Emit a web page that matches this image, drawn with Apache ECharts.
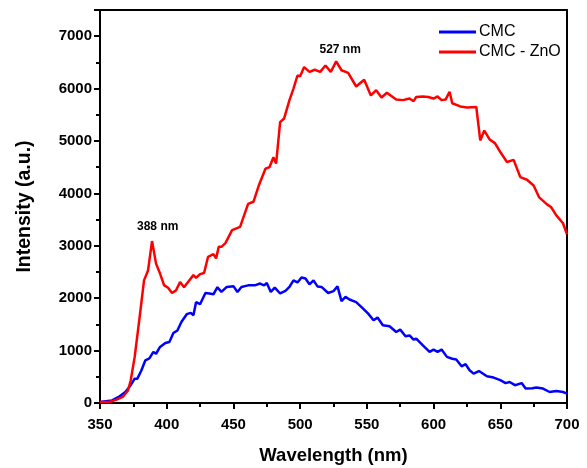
<!DOCTYPE html>
<html>
<head>
<meta charset="utf-8">
<script src="https://cdn.jsdelivr.net/npm/echarts@6/dist/echarts.min.js"></script>
<style>html,body{margin:0;padding:0;background:#fff}#chart{width:587px;height:468px}</style>
</head>
<body>
<div id="chart"></div>
<script>
const seriesNames = ['CMC', 'CMC - ZnO'];
const cmcWavelength = [350,359,364,369,373,376,378,381,384,387,390,392,395,399,402,405,408,411,415,418,420,422,425,429,432,435,438,441,445,450,453,456,461,466,470,473,475,478,481,485,489,492,495,498,501,504,507,510,513,516,521,525,528,531,534,537,542,546,551,555,558,562,567,572,575,579,582,585,587,592,597,600,603,606,610,614,617,621,624,627,630,634,640,645,650,654,657,661,666,669,674,677,682,687,692,697,700];
const cmcIntensity = [20,50,115,210,340,465,465,620,815,850,975,940,1070,1145,1165,1335,1385,1545,1695,1720,1675,1925,1885,2100,2090,2075,2210,2120,2215,2230,2120,2215,2245,2245,2280,2245,2290,2120,2200,2090,2140,2215,2340,2300,2395,2375,2265,2340,2225,2215,2100,2135,2225,1945,2025,1975,1925,1830,1705,1580,1630,1485,1465,1355,1400,1275,1290,1210,1230,1100,975,1020,975,1020,880,845,830,700,740,625,560,610,510,485,435,380,400,340,380,275,280,295,275,210,230,210,180];
const znoWavelength = [350,357,362,367,371,373,376,380,383,386,389,392,395,398,401,404,407,410,413,416,420,422,425,428,431,435,437,439,441,444,449,455,461,465,469,474,477,480,482,485,488,492,495,498,500,503,507,511,515,519,523,527,531,536,542,548,553,557,561,565,572,577,582,585,587,592,596,600,603,606,609,612,614,620,625,632,635,638,642,646,650,655,660,665,670,675,679,685,688,692,697,700];
const znoIntensity = [20,20,60,115,240,430,880,1700,2340,2530,3090,2660,2470,2250,2200,2100,2150,2310,2210,2310,2440,2390,2460,2480,2790,2840,2760,2980,2980,3050,3300,3360,3800,3840,4150,4470,4500,4690,4570,5360,5430,5780,6000,6250,6235,6410,6320,6360,6320,6440,6320,6520,6350,6300,6040,6170,5870,5970,5830,5920,5790,5780,5810,5760,5840,5850,5840,5810,5850,5780,5790,5940,5720,5660,5640,5650,5010,5200,5030,4960,4790,4600,4640,4310,4260,4150,3930,3790,3740,3580,3430,3220];
const peakLabels = [{ nm: 388, value: 3090, text: '388 nm' }, { nm: 527, value: 6520, text: '527 nm' }];

const font = '"Liberation Sans", Arial, sans-serif';
const pair = (xs, ys) => xs.map((x, i) => [x, ys[i]]);

const chart = echarts.init(document.getElementById('chart'), null, { renderer: 'canvas' });
chart.setOption({
  backgroundColor: '#ffffff',
  animation: false,
  textStyle: { fontFamily: font },
  grid: { left: 100, right: 20, top: 10, bottom: 65, outerBoundsMode: 'none', containLabel: false },
  legend: {
    orient: 'vertical', left: 434, top: 19, itemGap: 4,
    icon: 'rect', itemWidth: 37, itemHeight: 3,
    textStyle: { fontFamily: font, fontSize: 16, color: '#000', padding: [0, 0, 0, -2] },
    data: seriesNames
  },
  xAxis: [{
    type: 'value', min: 350, max: 700, interval: 50,
    name: 'Wavelength (nm)', nameLocation: 'middle', nameGap: 43,
    nameTextStyle: { fontFamily: font, fontSize: 18.5, fontWeight: 'bold', color: '#000' },
    axisLine: { show: true, lineStyle: { color: '#000', width: 2 } },
    axisTick: { show: true, length: 6, lineStyle: { color: '#000', width: 2 } },
    minorTick: { show: true, splitNumber: 2, length: 4, lineStyle: { color: '#000', width: 2 } },
    axisLabel: { fontFamily: font, fontSize: 15, fontWeight: 'bold', color: '#000', margin: 14 },
    splitLine: { show: false }
  }, {
    type: 'value', position: 'top', min: 350, max: 700,
    axisLine: { show: true, onZero: false, lineStyle: { color: '#000', width: 2 } },
    axisTick: { show: false }, axisLabel: { show: false }, splitLine: { show: false }
  }],
  yAxis: [{
    type: 'value', min: 0, max: 7500, interval: 1000,
    name: 'Intensity (a.u.)', nameLocation: 'middle', nameGap: 65,
    nameTextStyle: { fontFamily: font, fontSize: 19.5, fontWeight: 'bold', color: '#000' },
    axisLine: { show: true, lineStyle: { color: '#000', width: 2 } },
    axisTick: { show: true, length: 6, lineStyle: { color: '#000', width: 2 } },
    minorTick: { show: true, splitNumber: 2, length: 4, lineStyle: { color: '#000', width: 2 } },
    axisLabel: { fontFamily: font, fontSize: 15, fontWeight: 'bold', color: '#000', margin: 8, showMaxLabel: false,
      formatter: v => String(v) },
    splitLine: { show: false }
  }, {
    type: 'value', position: 'right', min: 0, max: 7500,
    axisLine: { show: true, onZero: false, lineStyle: { color: '#000', width: 2 } },
    axisTick: { show: false }, axisLabel: { show: false }, splitLine: { show: false }
  }],
  series: [{
    name: seriesNames[0], type: 'line', data: pair(cmcWavelength, cmcIntensity),
    showSymbol: false, symbol: 'none', color: '#0000ff',
    lineStyle: { color: '#0000ff', width: 2.5 }, z: 3
  }, {
    name: seriesNames[1], type: 'line', data: pair(znoWavelength, znoIntensity),
    showSymbol: false, symbol: 'none', color: '#ff0000',
    lineStyle: { color: '#ff0000', width: 2.5 }, z: 4,
    markPoint: {
      symbol: 'circle', symbolSize: 0, silent: true,
      label: { show: true, position: 'top', distance: 6, color: '#000', fontFamily: font, fontSize: 12, fontWeight: 'bold',
        formatter: p => p.name },
      data: peakLabels.map((p, i) => ({ name: p.text, coord: [p.nm, p.value], label: { offset: [i === 0 ? 7 : 4, i === 0 ? -2 : 0] } }))
    }
  }]
});
</script>
</body>
</html>
